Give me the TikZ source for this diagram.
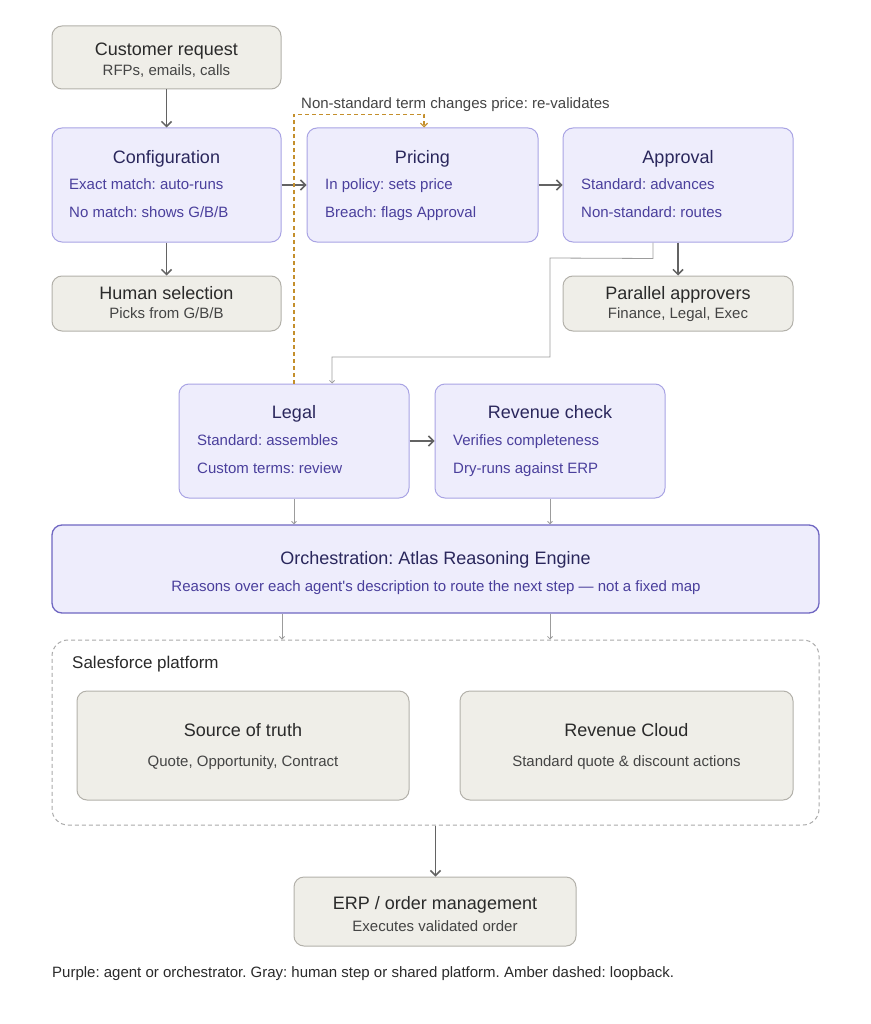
\documentclass[tikz,border=0pt]{standalone}
\usepackage{fontspec}
\setmainfont{Liberation Sans}
\usetikzlibrary{arrows.meta}
\frenchspacing
\definecolor{pfill}{HTML}{EEEDFC}
\definecolor{pborder}{HTML}{A9A4E4}
\definecolor{oborder}{HTML}{7067C2}
\definecolor{ptitle}{HTML}{2A275C}
\definecolor{ptext}{HTML}{4A3F9C}
\definecolor{gfill}{HTML}{EFEEE8}
\definecolor{gborder}{HTML}{B3B1AA}
\definecolor{gtitle}{HTML}{2A2A2A}
\definecolor{gtext}{HTML}{444444}
\definecolor{arrc}{HTML}{636363}
\definecolor{thinc}{HTML}{9C9C9C}
\definecolor{amber}{HTML}{C48F2C}
\definecolor{sfborder}{HTML}{AAAAAA}
\tikzset{
  pbox/.style={draw=pborder, fill=pfill, rounded corners=10pt, line width=1pt, inner sep=0pt},
  gbox/.style={draw=gborder, fill=gfill, rounded corners=10pt, line width=1pt, inner sep=0pt},
  ptitle/.style={anchor=base, inner sep=0pt, text=ptitle, font=\fontsize{18}{21}\selectfont},
  pline/.style={anchor=base west, inner sep=0pt, text=ptext, font=\fontsize{15}{18}\selectfont},
  gtitle/.style={anchor=base, inner sep=0pt, text=gtitle, font=\fontsize{18}{21}\selectfont},
  gsub/.style={anchor=base, inner sep=0pt, text=gtext, font=\fontsize{15}{18}\selectfont},
  arr/.style={draw=arrc, line width=1.5pt, -{Straight Barb[length=5pt,width=10pt,line width=1.5pt]}},
  thinarr/.style={draw=thinc, line width=0.8pt, -{Straight Barb[length=2.5pt,width=5pt,line width=0.8pt]}},
  looparr/.style={draw=amber, line width=1.2pt, dash pattern=on 4pt off 3pt, -{Straight Barb[length=3.5pt,width=7pt,line width=1.2pt]}},
}
\begin{document}
\begin{tikzpicture}[x=1pt,y=-1pt]
\useasboundingbox[fill=white] (0,0) rectangle (870,1024);

% boxes
\node[gbox, minimum width=229pt, minimum height=63pt] (cust) at (166.5,57.5) {};
\node[pbox, minimum width=229pt, minimum height=114pt] (cfg) at (166.5,185) {};
\node[pbox, minimum width=231pt, minimum height=114pt] (pri) at (422.5,185) {};
\node[pbox, minimum width=230pt, minimum height=114pt] (app) at (678,185) {};
\node[gbox, minimum width=229pt, minimum height=55pt] (hum) at (166.5,303.5) {};
\node[gbox, minimum width=230pt, minimum height=55pt] (par) at (678,303.5) {};
\node[pbox, minimum width=230pt, minimum height=114pt] (leg) at (294,441) {};
\node[pbox, minimum width=230pt, minimum height=114pt] (rev) at (550,441) {};
\node[pbox, draw=oborder, line width=1.3pt, minimum width=767pt, minimum height=88pt] (orch) at (435.5,569) {};
\node[draw=sfborder, dash pattern=on 4pt off 3pt, line width=1pt, rounded corners=16pt, inner sep=0pt, minimum width=767pt, minimum height=185pt] (sf) at (435.5,732.5) {};
\node[gbox, minimum width=332pt, minimum height=109pt] (sot) at (243,745.5) {};
\node[gbox, minimum width=333pt, minimum height=109pt] (rc) at (626.5,745.5) {};
\node[gbox, minimum width=282pt, minimum height=69pt] (erp) at (435,911.5) {};

% texts
\node[gtitle] (custt) at (166.5,55.5) {Customer request};
\node[gsub] (custs) at (166.5,75.5) {RFPs, emails, calls};

\node[ptitle] (cfgt) at (166.5,163.5) {Configuration};
\node[pline] (cfg1) at (69,189.5) {Exact match: auto-runs};
\node[pline] (cfg2) at (69,217.5) {No match: shows G/B/B};

\node[ptitle] (prit) at (422.5,163.5) {Pricing};
\node[pline] (pri1) at (325,189.5) {In policy: sets price};
\node[pline] (pri2) at (325,217.5) {Breach: flags Approval};

\node[ptitle] (appt) at (678,163.5) {Approval};
\node[pline] (app1) at (581,189.5) {Standard: advances};
\node[pline] (app2) at (581,217.5) {Non-standard: routes};

\node[gtitle] (humt) at (166.5,299.5) {Human selection};
\node[gsub] (hums) at (166.5,318.5) {Picks from G/B/B};

\node[gtitle] (part) at (678,299.5) {Parallel approvers};
\node[gsub] (pars) at (678,318.5) {Finance, Legal, Exec};

\node[ptitle] (legt) at (294,418.5) {Legal};
\node[pline] (leg1) at (197,445.5) {Standard: assembles};
\node[pline] (leg2) at (197,473.5) {Custom terms: review};

\node[ptitle] (revt) at (550,418.5) {Revenue check};
\node[pline] (rev1) at (453,445.5) {Verifies completeness};
\node[pline] (rev2) at (453,473.5) {Dry-runs against ERP};

\node[ptitle] (orcht) at (435.5,564.5) {Orchestration: Atlas Reasoning Engine};
\node[anchor=base, inner sep=0pt, text=ptext, font=\fontsize{15}{18}\selectfont] (orchs) at (436,591.5) {Reasons over each agent\textquotesingle s description to route the next step — not a fixed map};

\node[anchor=base west, inner sep=0pt, text=gtitle, font=\fontsize{17}{20}\selectfont] (sft) at (72,668) {Salesforce platform};

\node[gtitle] (sott) at (243,736.5) {Source of truth};
\node[gsub] (sots) at (243,766.5) {Quote, Opportunity, Contract};

\node[gtitle] (rct) at (626.5,736.5) {Revenue Cloud};
\node[gsub] (rcs) at (626.5,766.5) {Standard quote \& discount actions};

\node[gtitle] (erpt) at (435,909.5) {ERP / order management};
\node[gsub] (erps) at (435,931.5) {Executes validated order};

\node[anchor=base west, inner sep=0pt, text=gtext, font=\fontsize{15}{18}\selectfont] (looplbl) at (301,108.5) {Non-standard term changes price: re-validates};

\node[anchor=base west, inner sep=0pt, text=gtitle, font=\fontsize{15}{18}\selectfont] (foot) at (52,977.5) {Purple: agent or orchestrator. Gray: human step or shared platform. Amber dashed: loopback.};

% main connectors
\draw[arr] (cust.south) -- (cfg.north);
\draw[arr] (cfg.south) -- (hum.north);
\draw[arr] (cfg.east) -- (pri.west);
\draw[arr] (pri.east) -- (app.west);
\draw[arr] (app.south) -- (par.north);
\draw[arr] (leg.east) -- (rev.west);
\draw[arr] (sf.south) -- (sf.south |- erp.north);

% approval -> legal (routing)
\coordinate (a1) at ([xshift=-25pt]app.south);
\coordinate (l1) at ([xshift=38pt]leg.north);
\draw[thinarr] (a1) -- ++(0,16) -- (550,258) -- (550,357) -| (l1);

% loopback
\coordinate (p1) at ([xshift=1.5pt]pri.north);
\draw[looparr] (leg.north) -- ++(0,-269) -| (p1);

% thin flows into / out of orchestration
\draw[thinarr] (leg.south) -- (leg.south |- orch.north);
\draw[thinarr] (rev.south) -- (rev.south |- orch.north);
\coordinate (o1) at ([xshift=-153.5pt]orch.south);
\coordinate (o2) at ([xshift=114.5pt]orch.south);
\draw[thinarr] (o1) -- (o1 |- sf.north);
\draw[thinarr] (o2) -- (o2 |- sf.north);
\end{tikzpicture}
\end{document}
